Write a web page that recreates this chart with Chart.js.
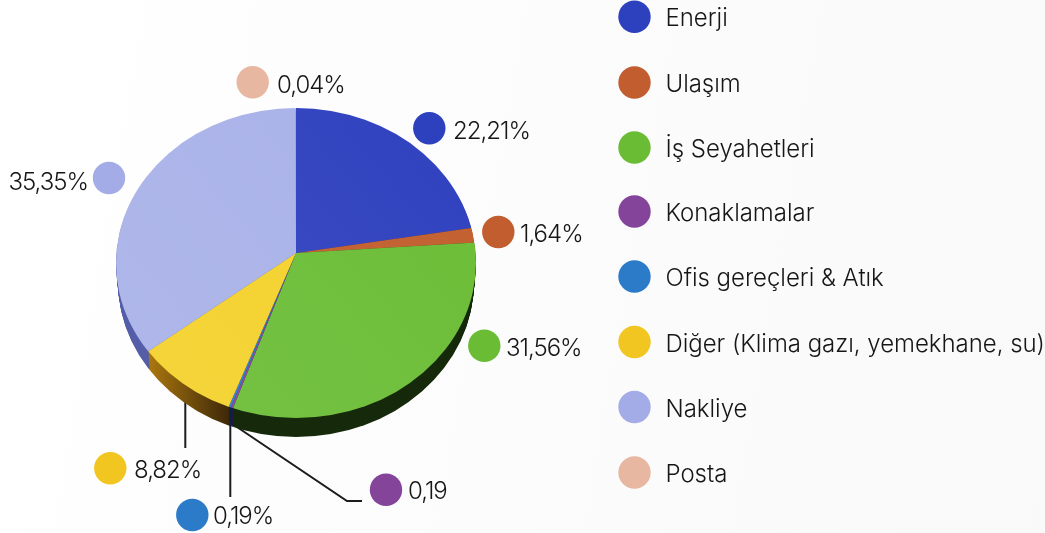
<!DOCTYPE html>
<html lang="tr"><head><meta charset="utf-8">
<style>
html,body{margin:0;padding:0;width:1045px;height:533px;overflow:hidden;background:linear-gradient(100deg,#fff 4%,#fdfdfd 30%,#f9f9f9 100%)}
#w{position:absolute;left:0;top:0;width:1045px;height:533px}
canvas{display:block}
</style>
<script src="https://cdn.jsdelivr.net/npm/chart.js@4"></script>
</head><body><div id="w"><canvas id="c" width="1045" height="533"></canvas></div>
<script>
const categories=["Enerji","Ulaşım","İş Seyahetleri","Konaklamalar","Ofis gereçleri & Atık","Diğer (Klima gazı, yemekhane, su)","Nakliye","Posta"];
const values=[22.21,1.64,31.56,0.19,0.19,8.82,35.35,0.04];
const valueLabels=["22,21%","1,64%","31,56%","0,19","0,19%","8,82%","35,35%","0,04%"];
const sliceColors=["#3041bf","#c25f2e","#6bbd36","#84449a","#2b7bc8","#f4d12b","#a9b2e8","#e9b8a2"];
const markerColors=["#2d40bd","#c15d2e","#6bbc35","#84449a","#2b7bc8","#f1c621","#a3ace6","#e8b7a1"];
const sideColors=["#1c2670","#5e2e14","#172b0c","#1f1a40","#0e2448",null,"#565fa8","#565fa8"];

const FONT='300 24px Inter, Lato, sans-serif';
const TEXT='#161616';
const legendX=634.5, legendTextX=665.5, legendY=[16.7,82.5,147.5,211.5,276.5,342,407,472.5];
const markerPos=[[429.3,128.3],[498.3,232],[484.3,345.7],[386,489.7],[192.3,515],[110.3,468.3],[109,178],[252.7,82.3]];
const labelPos=[[453,132],[520,235],[506,349],[408,492],[213,517],[134,471],[88,183],[277,86]];

function wedges(chart,ctx,dy,colorOf){
  const meta=chart.getDatasetMeta(0), cx=meta.data[0].x, cy=meta.data[0].y;
  [[0,cy,0.806],[cy,533-cy,0.87]].forEach(([top,h,s])=>{
    ctx.save();
    ctx.beginPath();ctx.rect(0,top+dy,1045,h);ctx.clip();
    ctx.translate(cx,cy+dy);ctx.scale(1,s);ctx.translate(-cx,-cy);
    meta.data.forEach((arc,i)=>{
      const saved=arc.options;
      arc.options=Object.create(saved,{backgroundColor:{value:colorOf(i)}});
      arc.draw(ctx);
      arc.options=saved;
    });
    ctx.restore();
  });
}
function ellipseClip(ctx,cx,cy,rx,ry){ctx.beginPath();ctx.ellipse(cx,cy,rx,ry,0,0,Math.PI*2);ctx.clip();}

const piePlugin={id:'pie3d',
  beforeDatasetDraw(chart){
    const ctx=chart.ctx, cx=chart.getDatasetMeta(0).data[0].x;
    const depth=19;
    ctx.save();ctx.strokeStyle='#1b1b1b';ctx.lineWidth=2;
    [[[185.3,395],[185.3,448]],[[230.3,405],[230.3,497]],[[231,423],[347,501],[362,501]]].forEach(pts=>{
      ctx.beginPath();pts.forEach((p,i)=>i?ctx.lineTo(p[0],p[1]):ctx.moveTo(p[0],p[1]));ctx.stroke();
    });
    ctx.restore();
    const g=ctx.createLinearGradient(150,0,232,0);
    g.addColorStop(0,'#a9760f');g.addColorStop(1,'#3a2508');
    for(let d=depth;d>=1;d--){
      ctx.save();
      ellipseClip(ctx,cx,263+d,180-2*d/depth,155);
      wedges(chart,ctx,d,i=>sideColors[i]||g);
      ctx.restore();
    }
    ctx.save();
    ellipseClip(ctx,cx,263,180,155);
    wedges(chart,ctx,0,i=>chart.data.datasets[0].backgroundColor[i]);
    const hl=ctx.createLinearGradient(476,108,116,418);
    hl.addColorStop(0,'rgba(255,255,255,0)');hl.addColorStop(1,'rgba(255,255,255,0.08)');
    ctx.fillStyle=hl;ctx.fillRect(100,100,400,330);
    ctx.restore();
    return false;
  },
  afterDraw(chart){
    const ctx=chart.ctx;
    const dot=(x,y,c)=>{ctx.fillStyle=c;ctx.beginPath();ctx.arc(x,y,16.2,0,Math.PI*2);ctx.fill();};
    ctx.save();
    ctx.font=FONT;ctx.textBaseline='middle';
    categories.forEach((t,i)=>{
      dot(legendX,legendY[i],markerColors[i]);
      ctx.fillStyle=TEXT;ctx.textAlign='left';
      ctx.letterSpacing='-0.03px';
      ctx.fillText(t,legendTextX,legendY[i]+2.5);
    });
    ctx.letterSpacing='-1px';
    valueLabels.forEach((t,i)=>{
      dot(markerPos[i][0],markerPos[i][1],markerColors[i]);
      ctx.fillStyle=TEXT;ctx.textAlign=i===6?'right':'left';
      ctx.fillText(t,labelPos[i][0],labelPos[i][1]);
    });
    ctx.restore();
  }
};

new Chart(document.getElementById('c'),{
  type:'pie',
  data:{labels:categories,datasets:[{data:values,backgroundColor:sliceColors,borderWidth:0}]},
  plugins:[piePlugin],
  options:{responsive:false,animation:false,events:[],
    layout:{padding:{left:43,right:496,top:0,bottom:27}},
    plugins:{legend:{display:false},tooltip:{enabled:false}}}
});
</script></body></html>
